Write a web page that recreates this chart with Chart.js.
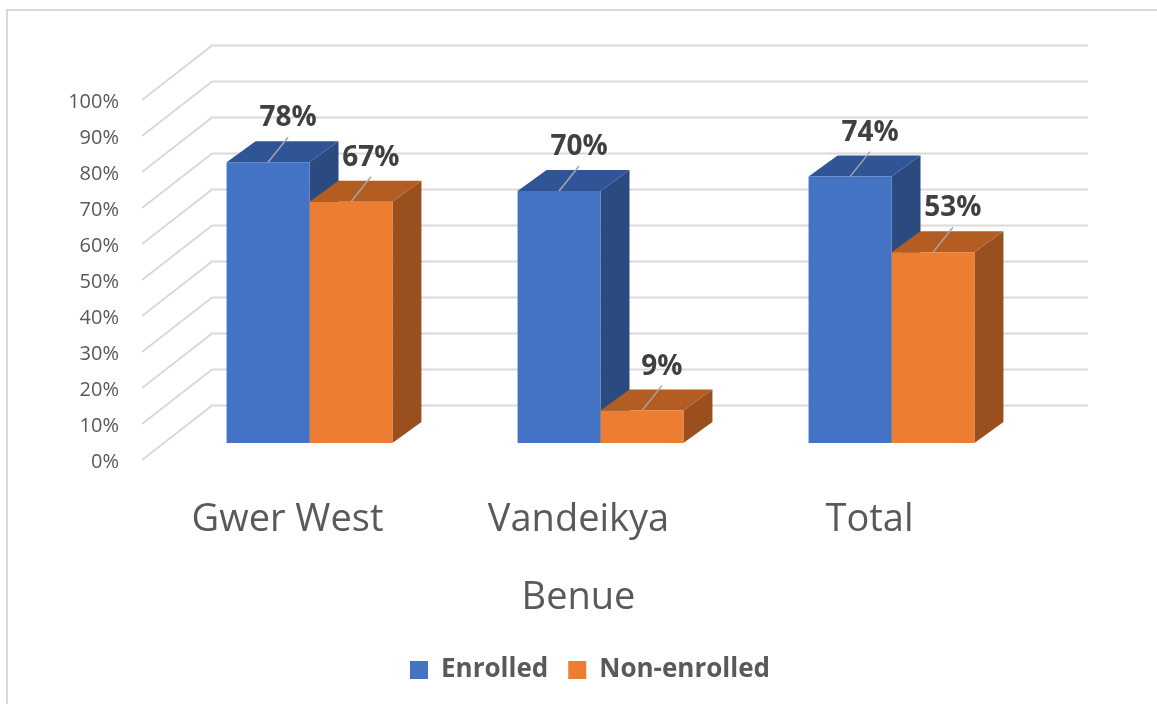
<!DOCTYPE html>
<html lang="en">
<head>
  <meta charset="UTF-8">
  <title>Benue enrolment</title>
  <script src="https://cdn.jsdelivr.net/npm/chart.js"></script>
  <style>
    body { margin: 0; background: #fff; }
    canvas { display: block; }
  </style>
</head>
<body>
  <canvas id="myChart" width="1157" height="704"></canvas>
  <script>
    // chart values
    const categories = ['Gwer West', 'Vandeikya', 'Total'];
    const seriesNames = ['Enrolled', 'Non-enrolled'];
    const enrolled = [78, 70, 74];
    const nonEnrolled = [67, 9, 53];
    const axisTitle = 'Benue';

    const frontColors = ['#4472C4', '#ED7D31'];
    const topColors = ['#2F5597', '#B45D22'];
    const sideColors = ['#2A4A80', '#9A4F1E'];

    // oblique projection: chart area = front edge of the floor,
    // bars sit a bit back (barShift), the wall further back (wallShift)
    const barShift = { dx: 22, dy: -17 };
    const barDepth = { dx: 29, dy: -21 };
    const wallShift = { dx: 70, dy: -54.5 };

    const threeD = {
      id: 'threeD',
      beforeDraw(chart) {
        const ctx = chart.ctx;
        const area = chart.chartArea;
        const yScale = chart.scales.y;
        ctx.save();
        // outer frame
        ctx.strokeStyle = '#d9d9d9';
        ctx.lineWidth = 2;
        ctx.strokeRect(7, 10, 1200, 800);
        // floor diagonals + back wall grid
        ctx.lineWidth = 2;
        yScale.ticks.forEach(t => {
          const y = yScale.getPixelForValue(t.value);
          ctx.beginPath();
          ctx.moveTo(area.left, y);
          ctx.lineTo(area.left + wallShift.dx, y + wallShift.dy);
          ctx.lineTo(area.right + 73, y + wallShift.dy);
          ctx.stroke();
        });
        ctx.restore();
      },
      beforeDatasetsDraw(chart) {
        const ctx = chart.ctx;
        ctx.save();
        ctx.translate(barShift.dx, barShift.dy);
        chart.data.datasets.forEach((ds, di) => {
          const meta = chart.getDatasetMeta(di);
          meta.data.forEach(bar => {
            const left = bar.x - bar.width / 2;
            const right = bar.x + bar.width / 2;
            const top = bar.y;
            const bottom = bar.base;
            // side face
            ctx.fillStyle = sideColors[di];
            ctx.beginPath();
            ctx.moveTo(right, top);
            ctx.lineTo(right + barDepth.dx, top + barDepth.dy);
            ctx.lineTo(right + barDepth.dx, bottom + barDepth.dy);
            ctx.lineTo(right, bottom);
            ctx.closePath();
            ctx.fill();
            // top face
            ctx.fillStyle = topColors[di];
            ctx.beginPath();
            ctx.moveTo(left, top);
            ctx.lineTo(right, top);
            ctx.lineTo(right + barDepth.dx, top + barDepth.dy);
            ctx.lineTo(left + barDepth.dx, top + barDepth.dy);
            ctx.closePath();
            ctx.fill();
          });
        });
        // front faces are drawn by Chart.js inside this translation
      },
      afterDatasetsDraw(chart) {
        const ctx = chart.ctx;
        ctx.font = 'bold 28px "Open Sans"';
        ctx.fillStyle = '#404040';
        ctx.textAlign = 'center';
        ctx.textBaseline = 'middle';
        chart.data.datasets.forEach((ds, di) => {
          const meta = chart.getDatasetMeta(di);
          meta.data.forEach((bar, i) => {
            const ex = bar.x + 20, ey = bar.y - 25;
            ctx.strokeStyle = '#a6a6a6';
            ctx.lineWidth = 1.5;
            ctx.beginPath();
            ctx.moveTo(bar.x, bar.y);
            ctx.lineTo(ex, ey);
            ctx.stroke();
            ctx.fillText(ds.data[i] + '%', ex, ey - 19);
          });
        });
        ctx.restore();
      }
    };

    Chart.defaults.font.family = '"Open Sans", sans-serif';
    Chart.defaults.color = '#595959';

    const ctx = document.getElementById('myChart').getContext('2d');
    const myChart = new Chart(ctx, {
      type: 'bar',
      data: {
        labels: categories,
        datasets: [
          { label: seriesNames[0], data: enrolled, backgroundColor: frontColors[0], clip: false },
          { label: seriesNames[1], data: nonEnrolled, backgroundColor: frontColors[1], clip: false }
        ]
      },
      options: {
        responsive: false,
        animation: false,
        categoryPercentage: 0.57,
        barPercentage: 1,
        layout: { padding: { top: 100, left: 60, right: 37, bottom: 11 } },
        plugins: {
          tooltip: { enabled: false },
          legend: {
            position: 'bottom',
            labels: {
              boxWidth: 18,
              boxHeight: 18,
              padding: 20,
              color: '#595959',
              font: { size: 26, weight: 'bold' }
            }
          }
        },
        scales: {
          x: {
            grid: { display: false, drawTicks: false },
            border: { display: false },
            ticks: { padding: 37, font: { size: 38 }, color: '#595959' },
            title: {
              display: true,
              text: axisTitle,
              font: { size: 38 },
              color: '#595959',
              padding: { top: 20, bottom: 16 }
            },
            afterFit(scale) { scale.height = 177; }
          },
          y: {
            min: 0,
            max: 100,
            grid: { display: false, drawTicks: false },
            border: { display: false },
            ticks: {
              stepSize: 10,
              padding: 23,
              labelOffset: 2,
              font: { size: 20 },
              color: '#595959',
              callback: v => v + '%'
            },
            afterFit(scale) { scale.width = 82; }
          },
          // empty space on the right where the back wall runs out
          wall: {
            type: 'linear',
            position: 'right',
            grid: { display: false, drawTicks: false },
            border: { display: false },
            ticks: { display: false },
            afterFit(scale) { scale.width = 105; }
          }
        }
      },
      plugins: [threeD]
    });
  </script>
</body>
</html>
